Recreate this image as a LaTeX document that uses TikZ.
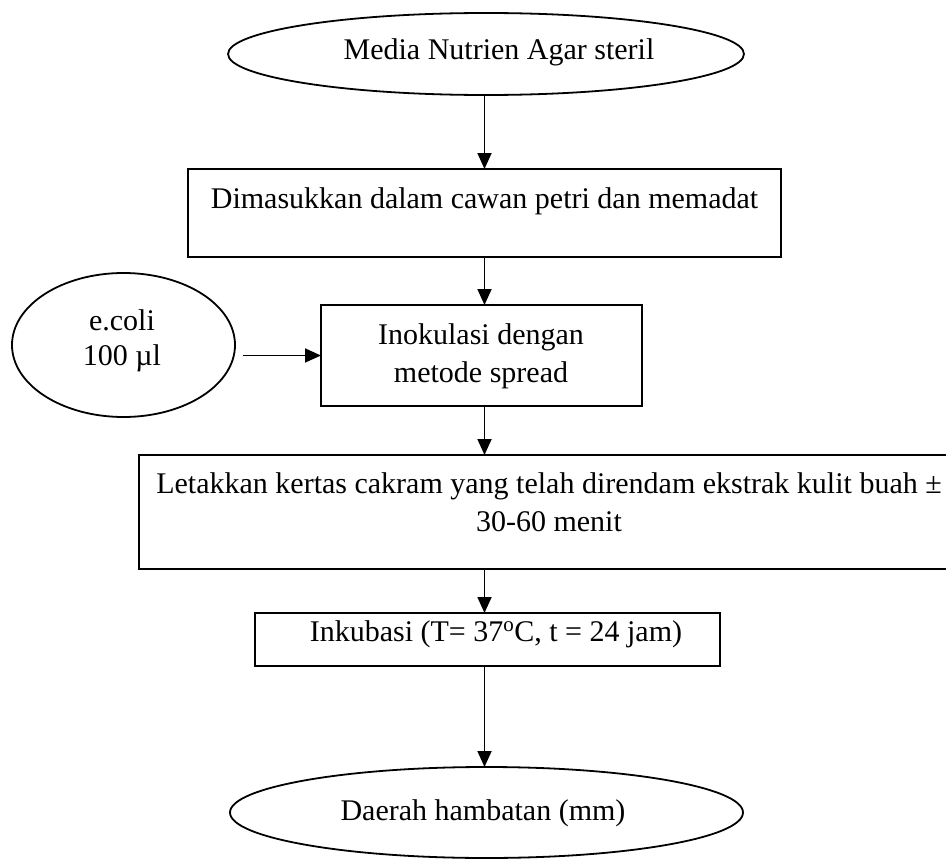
\documentclass[tikz,border=0pt]{standalone}
\usepackage{fontspec}
\setmainfont{Liberation Serif}
\usetikzlibrary{shapes.geometric,arrows.meta}
\begin{document}
\begin{tikzpicture}[x=1pt,y=-1pt,
  every node/.style={inner sep=0pt, outer sep=0pt},
  txt/.style={font=\fontsize{30}{38}\selectfont, align=center, anchor=base},
  stepbox/.style={draw, line width=1.8pt, rectangle},
  oval/.style={draw, line width=1.8pt, ellipse},
  arr/.style={line width=1.8pt, -{Triangle[width=14pt,length=16pt]}}]
\useasboundingbox (0,0) rectangle (946,859);

% shapes
\node[oval, minimum width=516pt, minimum height=82pt] (start) at (486,54) {};
\node[stepbox, minimum width=593pt, minimum height=88pt] (pour) at (484.5,213) {};
\node[oval, minimum width=223pt, minimum height=144pt] (ecoli) at (123.5,345) {};
\node[stepbox, minimum width=321pt, minimum height=101pt] (inoc) at (481.5,355.5) {};
\node[stepbox, minimum width=820pt, minimum height=114pt] (disc) at (549,512) {};
\node[stepbox, minimum width=465pt, minimum height=53pt] (incub) at (487.5,639.5) {};
\node[oval, minimum width=513pt, minimum height=91pt] (result) at (486.5,812.5) {};

% texts (base anchor of a two-line node sits on its last line)
\node[txt] (tstart) at (499,60) {Media Nutrien Agar steril};
\node[txt] (tpour) at (484.5,208) {Dimasukkan dalam cawan petri dan memadat};
\node[txt, font=\fontsize{30}{35}\selectfont] (tecoli) at (122,365) {e.coli\\100 µl};
\node[txt] (tinoc) at (481,382) {Inokulasi dengan\\metode spread};
\node[txt] (tdisc) at (549,531) {Letakkan kertas cakram yang telah direndam ekstrak kulit buah ±\\30-60 menit};
\node[txt] (tincub) at (496,641) {Inkubasi (T= 37\textsuperscript{o}C, t = 24 jam)};
\node[txt] (tresult) at (483,820) {Daerah hambatan (mm)};

% connectors
\draw[arr] (pour.north |- start.south) -- (pour.north);
\draw[arr] (pour.south) -- (pour.south |- inoc.north);
\draw[arr, shorten <=8pt] (ecoli.east |- inoc.west) -- (inoc.west);
\draw[arr] (pour.south |- inoc.south) -- (pour.south |- disc.north);
\draw[arr] (pour.south |- disc.south) -- (pour.south |- incub.north);
\draw[arr] (pour.south |- incub.south) -- (pour.south |- result.north);
\end{tikzpicture}
\end{document}
